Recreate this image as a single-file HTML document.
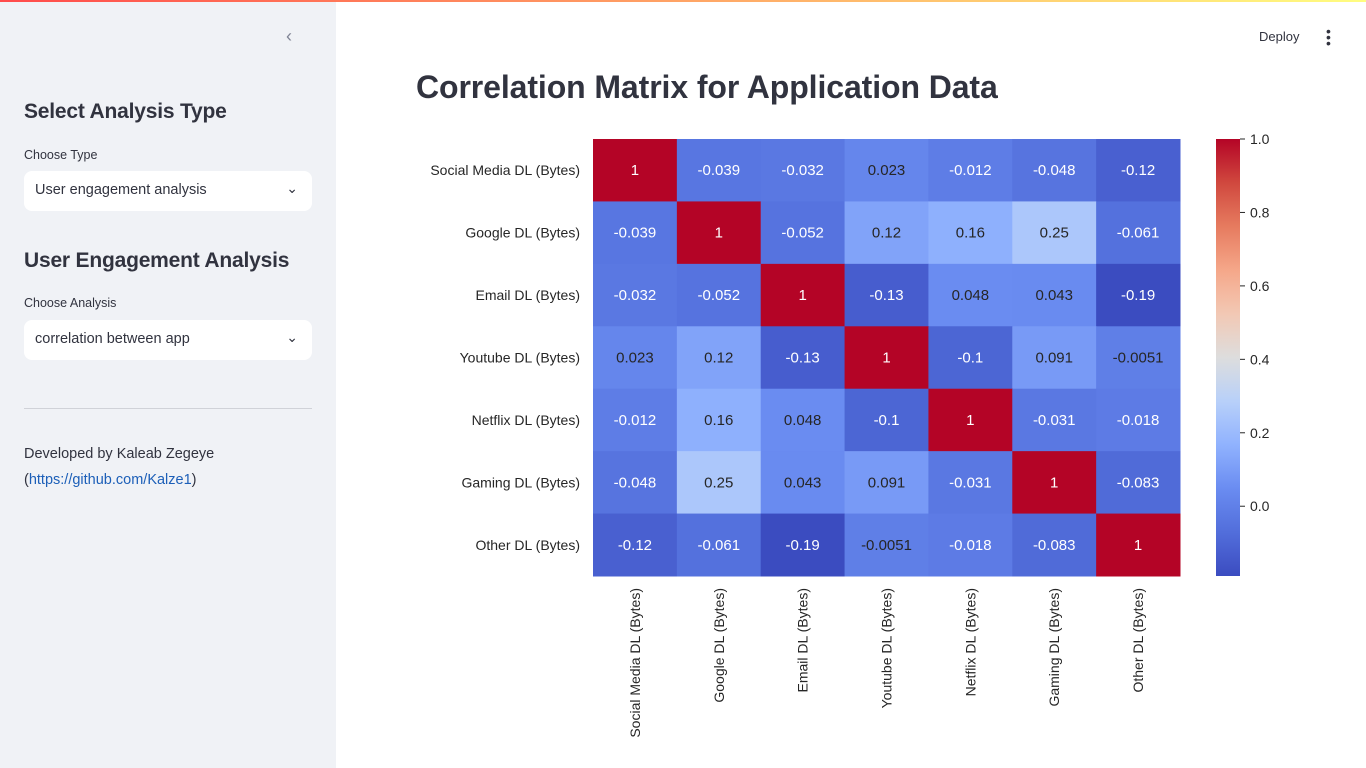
<!DOCTYPE html>
<html><head><meta charset="utf-8"><style>
*{box-sizing:border-box}
body{margin:0;width:1366px;height:768px;overflow:hidden;font-family:"Liberation Sans",sans-serif;background:#fff;position:relative}
#topbar{position:absolute;left:0;top:0;width:1366px;height:2px;background:linear-gradient(90deg,#ff4b4b,#fffd80)}
#sidebar{position:absolute;left:0;top:2px;width:336px;height:766px;background:#f0f2f6;color:#31333f}
.h{position:absolute;left:24px;font-size:21px;font-weight:bold;letter-spacing:-0.2px}
.lbl{position:absolute;left:24px;font-size:12.5px}
.sel{position:absolute;left:24px;width:288px;height:40px;background:#fff;border-radius:8px;font-size:14.5px;padding:11px 11px}
.sel span.c{position:absolute;right:14px;top:9px;font-size:14px}
#main svg text{font-family:"Liberation Sans",sans-serif}
</style></head><body>
<div id="topbar"></div>
<div id="sidebar">
<div style="position:absolute;left:286px;top:24px;font-size:18px;color:#808495">‹</div>
<div class="h" style="top:98px">Select Analysis Type</div>
<div class="lbl" style="top:146px">Choose Type</div>
<div class="sel" style="top:169px">User engagement analysis<span class="c">&#8964;</span></div>
<div class="h" style="top:247px">User Engagement Analysis</div>
<div class="lbl" style="top:294px">Choose Analysis</div>
<div class="sel" style="top:318px">correlation between app<span class="c">&#8964;</span></div>
<div style="position:absolute;left:24px;top:406px;width:288px;height:1px;background:#d0d2d8"></div>
<div style="position:absolute;left:24px;top:439px;font-size:14.5px;line-height:26px">Developed by Kaleab Zegeye<br>(<a style="color:#1c5fb8">https://github.com/Kalze1</a>)</div>
</div>
<div style="position:absolute;left:1259px;top:29px;font-size:13px;color:#31333f">Deploy</div>
<div style="position:absolute;left:1326px;top:28px;width:4px;font-size:14px;line-height:6px;color:#31333f">•<br>•<br>•</div>
<div style="position:absolute;left:416px;top:69px;font-size:32px;font-weight:bold;color:#31333f;letter-spacing:-0.1px">Correlation Matrix for Application Data</div>
<div id="main"><svg id="chart" width="1366" height="768" style="position:absolute;left:0;top:0"></svg></div>
<script>
const categories=["Social Media DL (Bytes)","Google DL (Bytes)","Email DL (Bytes)","Youtube DL (Bytes)","Netflix DL (Bytes)","Gaming DL (Bytes)","Other DL (Bytes)"];
const row0=[1,-0.039,-0.032,0.023,-0.012,-0.048,-0.12];
const row1=[-0.039,1,-0.052,0.12,0.16,0.25,-0.061];
const row2=[-0.032,-0.052,1,-0.13,0.048,0.043,-0.19];
const row3=[0.023,0.12,-0.13,1,-0.1,0.091,-0.0051];
const row4=[-0.012,0.16,0.048,-0.1,1,-0.031,-0.018];
const row5=[-0.048,0.25,0.043,0.091,-0.031,1,-0.083];
const row6=[-0.12,-0.061,-0.19,-0.0051,-0.018,-0.083,1];
const colorTicks=[0.0,0.2,0.4,0.6,0.8,1.0];
const rows=[row0,row1,row2,row3,row4,row5,row6];
const NS="http://www.w3.org/2000/svg",svg=document.getElementById('chart');
const X0=593,X1=1180,Y0=139,Y1=576;
const all=rows.flat();const vmin=Math.min(...all),vmax=Math.max(...all);
const n=categories.length,cw=(X1-X0)/n,ch=(Y1-Y0)/n;
const xPos=i=>X0+i*cw, yPos=i=>Y0+i*ch;
const cbY=v=>Y0+(vmax-v)/(vmax-vmin)*(Y1-Y0);
const stops=[[59,76,192],[82,110,219],[106,140,241],[144,178,254],[184,208,249],[221,221,221],[242,200,180],[245,167,137],[230,123,95],[208,72,62],[180,4,38]];
function cmap(t){t=Math.max(0,Math.min(1,t));const p=t*10,i=Math.min(9,Math.floor(p)),f=p-i;const a=stops[i],b=stops[i+1];return a.map((c,k)=>Math.round(c+(b[k]-c)*f));}
function mk(tag,at){const e=document.createElementNS(NS,tag);for(const k in at)e.setAttribute(k,at[k]);svg.appendChild(e);return e;}
rows.forEach((r,i)=>r.forEach((v,j)=>{
 const c=cmap((v-vmin)/(vmax-vmin));
 const rect=mk('rect',{x:xPos(j),y:yPos(i),width:cw+0.5,height:ch+0.5,fill:`rgb(${c})`});
 
 
 const lum=(0.2126*c[0]+0.7152*c[1]+0.0722*c[2])/255;
 const t=mk('text',{x:xPos(j)+cw/2,y:yPos(i)+ch/2+5,'text-anchor':'middle','font-size':15,fill:lum>0.5?'#262626':'#fff'});
 t.textContent=String(v);
 
 
}));
categories.forEach((c,i)=>{
 const t=mk('text',{x:580,y:yPos(i)+ch/2+5,'text-anchor':'end','font-size':14,fill:'#262626'});t.textContent=c;
 
 
 const x=xPos(i)+cw/2+5;
 const u=mk('text',{x:x,y:588,'text-anchor':'end','font-size':14,fill:'#262626',transform:`rotate(-90 ${x} 588)`});u.textContent=c;
 
 
});
const defs=mk('defs',{});const g=document.createElementNS(NS,'linearGradient');g.setAttribute('id','cb');g.setAttribute('x1','0');g.setAttribute('y1','1');g.setAttribute('x2','0');g.setAttribute('y2','0');defs.appendChild(g);
for(let k=0;k<=20;k++){const s=document.createElementNS(NS,'stop');s.setAttribute('offset',k/20);s.setAttribute('stop-color',`rgb(${cmap(k/20)})`);g.appendChild(s);}
const cb=mk('rect',{x:1216,y:Y0,width:24,height:Y1-Y0,fill:'url(#cb)'});


colorTicks.forEach(v=>{const y=cbY(v);mk('line',{x1:1240,x2:1245,y1:y,y2:y,stroke:'#262626'});
 const t=mk('text',{x:1250,y:y+5,'font-size':14,fill:'#262626'});t.textContent=v.toFixed(1);
 
 });
</script>
</body></html>
